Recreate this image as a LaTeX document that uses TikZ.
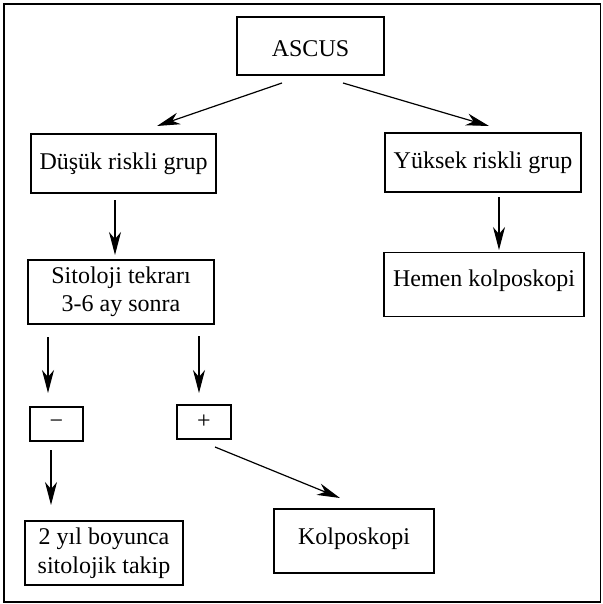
\documentclass[tikz,border=0pt]{standalone}
\usepackage{fontspec}
\setmainfont{Liberation Serif}
\usetikzlibrary{arrows.meta}
\begin{document}
\begin{tikzpicture}[x=1pt,y=-1pt,
  box/.style={draw, line width=1.4pt, inner sep=0pt, align=center,
    font=\fontsize{24}{27.5}\selectfont},
  arr/.style={line width=1.2pt, -{Stealth[length=23pt,width=12pt,inset=7pt]}}]
\useasboundingbox (0,0) rectangle (602,604);
\draw[line width=1.5pt] (4,4) rectangle (600.5,602);
% nodes
\node[box, minimum width=147pt, minimum height=58pt, text height=22pt, text depth=0pt] (ascus) at (310.5,46) {ASCUS};
\node[box, minimum width=185pt, minimum height=59pt] (dusuk) at (123.5,163.5) {Düşük riskli grup};
\node[box, minimum width=196pt, minimum height=59pt] (yuksek) at (483,162.5) {Yüksek riskli grup};
\node[box, minimum width=186pt, minimum height=64pt] (sito) at (121,292) {Sitoloji tekrarı\\3-6 ay sonra};
\node[box, minimum width=200pt, minimum height=64pt, text height=16pt, text depth=12pt] (hemen) at (484,284.5) {Hemen kolposkopi};
\node[box, minimum width=53pt, minimum height=34pt] (minus) at (56.5,424) {−};
\node[box, minimum width=54pt, minimum height=34pt] (plus) at (204,422) {+};
\node[box, minimum width=158pt, minimum height=64pt, font=\fontsize{24}{28.5}\selectfont] (takip) at (104,553) {2 yıl boyunca\\sitolojik takip};
\node[box, minimum width=160pt, minimum height=64pt, text height=16pt, text depth=9pt] (kolpo) at (354,541) {Kolposkopi};
% connector ends
\coordinate (a1) at (282,83);  \coordinate (a2) at (157,126);
\coordinate (b1) at (343,83);  \coordinate (b2) at (489,126);
\coordinate (c1) at (115,200); \coordinate (c2) at (115,255);
\coordinate (d1) at (499,197); \coordinate (d2) at (499,250);
\coordinate (e1) at (48,337);  \coordinate (e2) at (48,393);
\coordinate (f1) at (199,336); \coordinate (f2) at (199,393);
\coordinate (g1) at (51,450);  \coordinate (g2) at (51,505);
\coordinate (h1) at (215,447); \coordinate (h2) at (340,498);
\draw[arr] (a1) -- (a2);
\draw[arr] (b1) -- (b2);
\draw[arr] (c1) -- (c2);
\draw[arr] (d1) -- (d2);
\draw[arr] (e1) -- (e2);
\draw[arr] (f1) -- (f2);
\draw[arr] (g1) -- (g2);
\draw[arr] (h1) -- (h2);
\end{tikzpicture}
\end{document}
